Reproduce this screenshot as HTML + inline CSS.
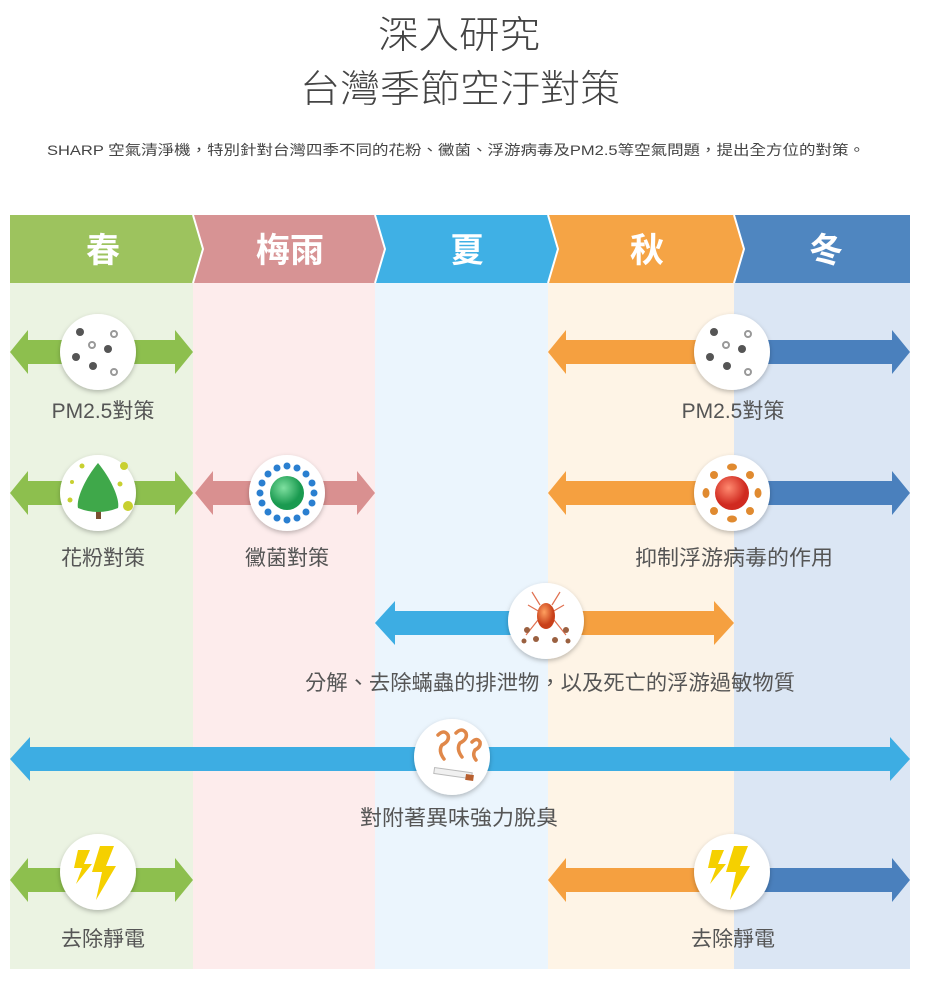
<!DOCTYPE html>
<html><head><meta charset="utf-8"><style>
html,body{margin:0;padding:0;background:#fff;width:938px;height:998px;overflow:hidden}
svg{display:block}
text{font-family:"Liberation Sans","Noto Sans CJK TC",sans-serif}
</style></head><body>
<svg width="938" height="998" viewBox="0 0 938 998" xmlns="http://www.w3.org/2000/svg">
<defs>
<filter id="sh" x="-30%" y="-30%" width="160%" height="160%"><feDropShadow dx="0" dy="2" stdDeviation="2.5" flood-color="#000" flood-opacity="0.25"/></filter>
<radialGradient id="gr" cx="40%" cy="35%"><stop offset="0" stop-color="#7fe0a0"/><stop offset="1" stop-color="#1a9a50"/></radialGradient>
<radialGradient id="rd" cx="40%" cy="35%"><stop offset="0" stop-color="#ff8a70"/><stop offset="1" stop-color="#d02a20"/></radialGradient>
<radialGradient id="mt" cx="40%" cy="35%"><stop offset="0" stop-color="#ffa060"/><stop offset="1" stop-color="#c8401a"/></radialGradient>
<g id="pm">
<g fill="#555"><circle cx="-18" cy="-20" r="4"/><circle cx="10" cy="-3" r="4"/><circle cx="-22" cy="5" r="4"/><circle cx="-5" cy="14" r="4"/></g>
<g fill="none" stroke="#999" stroke-width="2"><circle cx="16" cy="-18" r="3"/><circle cx="-6" cy="-7" r="3"/><circle cx="16" cy="20" r="3"/></g>
</g>
<g id="bolt">
<path d="M-20,-22 L-8,-22 L-14,-8 L-6,-8 L-22,12 L-16,-4 L-24,-4Z" fill="#f5d000"/>
<path d="M2,-26 L16,-26 L8,-6 L18,-6 L-2,28 L4,0 L-6,0Z" fill="#f5d000"/>
</g>
</defs>

<text x="459" y="48" font-size="38" font-weight="300" fill="#444" text-anchor="middle" textLength="162" lengthAdjust="spacingAndGlyphs">深入研究</text>
<text x="460" y="102" font-size="38" font-weight="300" fill="#444" text-anchor="middle" textLength="320" lengthAdjust="spacingAndGlyphs">台灣季節空汙對策</text>
<text x="47" y="155" font-size="14" fill="#444" textLength="818" lengthAdjust="spacingAndGlyphs">SHARP 空氣清淨機，特別針對台灣四季不同的花粉、黴菌、浮游病毒及PM2.5等空氣問題，提出全方位的對策。</text>

<rect x="10" y="283" width="183" height="686" fill="#ebf3e2"/>
<rect x="193" y="283" width="182" height="686" fill="#fdecec"/>
<rect x="375" y="283" width="173" height="686" fill="#ebf5fd"/>
<rect x="548" y="283" width="186" height="686" fill="#fef4e6"/>
<rect x="734" y="283" width="176" height="686" fill="#dbe6f4"/>

<polygon points="734,215 910,215 910,283 734,283 744,249" fill="#4f86c0"/>
<polygon points="548,215 734,215 744,249 734,283 548,283 558,249" fill="#f5a445"/>
<polygon points="375,215 548,215 558,249 548,283 375,283 385,249" fill="#3fb0e5"/>
<polygon points="193,215 375,215 385,249 375,283 193,283 203,249" fill="#d79394"/>
<polygon points="10,215 193,215 203,249 193,283 10,283" fill="#9dc35e"/>
<g stroke="#fff" stroke-width="2" fill="none">
<polyline points="193,215 203,249 193,283"/><polyline points="375,215 385,249 375,283"/><polyline points="548,215 558,249 548,283"/><polyline points="734,215 744,249 734,283"/>
</g>
<g font-size="34" fill="#fff" font-weight="bold" text-anchor="middle">
<text x="103" y="262">春</text><text x="290" y="262">梅雨</text><text x="467" y="262">夏</text><text x="647" y="262">秋</text><text x="826" y="262">冬</text>
</g>

<polygon points="10,352 28,330 28,340 100,340 100,364 28,364 28,374" fill="#8dbf4e"/>
<polygon points="193,352 175,330 175,340 100,340 100,364 175,364 175,374" fill="#8dbf4e"/>
<polygon points="548,352 566,330 566,340 732,340 732,364 566,364 566,374" fill="#f5a040"/>
<polygon points="910,352 892,330 892,340 732,340 732,364 892,364 892,374" fill="#4a80bd"/>
<circle cx="98" cy="352" r="38" fill="#fff" filter="url(#sh)"/><use href="#pm" x="98" y="352"/>
<circle cx="732" cy="352" r="38" fill="#fff" filter="url(#sh)"/><use href="#pm" x="732" y="352"/>

<polygon points="10,493 28,471 28,481 100,481 100,505 28,505 28,515" fill="#8dbf4e"/>
<polygon points="193,493 175,471 175,481 100,481 100,505 175,505 175,515" fill="#8dbf4e"/>
<polygon points="195,493 213,471 213,481 287,481 287,505 213,505 213,515" fill="#d99090"/>
<polygon points="375,493 357,471 357,481 287,481 287,505 357,505 357,515" fill="#d99090"/>
<polygon points="548,493 566,471 566,481 732,481 732,505 566,505 566,515" fill="#f5a040"/>
<polygon points="910,493 892,471 892,481 732,481 732,505 892,505 892,515" fill="#4a80bd"/>
<circle cx="98" cy="493" r="38" fill="#fff" filter="url(#sh)"/>
<rect x="96" y="505" width="5" height="14" fill="#7a5030"/>
<path d="M98,463 C84,480 76,500 78,508 Q98,516 118,508 C120,500 112,480 98,463Z" fill="#3fa84a"/>
<g fill="#c8d030"><circle cx="124" cy="466" r="4"/><circle cx="128" cy="506" r="5"/><circle cx="70" cy="500" r="2.5"/><circle cx="82" cy="466" r="2.5"/><circle cx="120" cy="484" r="2.5"/><circle cx="72" cy="482" r="2"/></g>
<circle cx="287" cy="493" r="38" fill="#fff" filter="url(#sh)"/>
<g fill="#2a7fd0"><circle cx="287" cy="466" r="3.5"/><circle cx="287" cy="520" r="3.5"/><circle cx="260" cy="493" r="3.5"/><circle cx="314" cy="493" r="3.5"/><circle cx="268" cy="474" r="3.5"/><circle cx="306" cy="474" r="3.5"/><circle cx="268" cy="512" r="3.5"/><circle cx="306" cy="512" r="3.5"/><circle cx="277" cy="468" r="3.5"/><circle cx="297" cy="468" r="3.5"/><circle cx="277" cy="518" r="3.5"/><circle cx="297" cy="518" r="3.5"/><circle cx="262" cy="483" r="3.5"/><circle cx="262" cy="503" r="3.5"/><circle cx="312" cy="483" r="3.5"/><circle cx="312" cy="503" r="3.5"/></g>
<circle cx="287" cy="493" r="17" fill="url(#gr)"/>
<circle cx="732" cy="493" r="38" fill="#fff" filter="url(#sh)"/>
<g fill="#e08a30"><ellipse cx="732" cy="467" rx="5" ry="3.5"/><ellipse cx="732" cy="519" rx="5" ry="3.5"/><ellipse cx="706" cy="493" rx="3.5" ry="5"/><ellipse cx="758" cy="493" rx="3.5" ry="5"/><circle cx="714" cy="475" r="4"/><circle cx="750" cy="475" r="4"/><circle cx="714" cy="511" r="4"/><circle cx="750" cy="511" r="4"/></g>
<circle cx="732" cy="493" r="17" fill="url(#rd)"/>

<polygon points="375,623 395,601 395,611 546,611 546,635 395,635 395,645" fill="#3dade3"/>
<polygon points="734,623 714,601 714,611 546,611 546,635 714,635 714,645" fill="#f5a040"/>
<circle cx="546" cy="621" r="38" fill="#fff" filter="url(#sh)"/>
<g stroke="#e07050" stroke-width="1.2" fill="none"><path d="M540,605 L532,592 M552,605 L560,592 M538,620 L526,635 M554,620 L566,635 M540,612 L528,605 M552,612 L564,605"/></g>
<ellipse cx="546" cy="616" rx="9" ry="13" fill="url(#mt)"/>
<g fill="#9a6040"><circle cx="527" cy="630" r="3"/><circle cx="566" cy="630" r="3"/><circle cx="536" cy="639" r="3"/><circle cx="555" cy="640" r="3"/><circle cx="524" cy="641" r="2.5"/><circle cx="568" cy="641" r="2.5"/></g>

<polygon points="10,759 30,737 30,747 890,747 890,737 910,759 890,781 890,771 30,771 30,781" fill="#3dade3"/>
<circle cx="452" cy="757" r="38" fill="#fff" filter="url(#sh)"/>
<g stroke="#e0884a" stroke-width="3.5" fill="none" stroke-linecap="round">
<path d="M438,735 q6,-6 10,0 q2,6 -6,10 q-4,6 2,14"/><path d="M456,733 q6,-6 10,0 q2,6 -6,10 q-4,6 2,14"/><path d="M472,742 q5,-5 8,0 q1,5 -5,8 q-3,5 1,10"/>
</g>
<rect x="434" y="770" width="38" height="6" fill="#f0f0f0" stroke="#bbb" stroke-width="1" transform="rotate(8 452 773)"/>
<rect x="466" y="772" width="8" height="6" fill="#b86030" transform="rotate(8 452 773)"/>

<polygon points="10,880 28,858 28,868 100,868 100,892 28,892 28,902" fill="#8dbf4e"/>
<polygon points="193,880 175,858 175,868 100,868 100,892 175,892 175,902" fill="#8dbf4e"/>
<polygon points="548,880 566,858 566,868 732,868 732,892 566,892 566,902" fill="#f5a040"/>
<polygon points="910,880 892,858 892,868 732,868 732,892 892,892 892,902" fill="#4a80bd"/>
<circle cx="98" cy="872" r="38" fill="#fff" filter="url(#sh)"/><use href="#bolt" x="98" y="872"/>
<circle cx="732" cy="872" r="38" fill="#fff" filter="url(#sh)"/><use href="#bolt" x="732" y="872"/>

<g font-size="21" fill="#555" text-anchor="middle">
<text x="103" y="418">PM2.5對策</text>
<text x="733" y="418">PM2.5對策</text>
<text x="103" y="565">花粉對策</text>
<text x="287" y="565">黴菌對策</text>
<text x="734" y="565" textLength="198" lengthAdjust="spacingAndGlyphs">抑制浮游病毒的作用</text>
<text x="550" y="690" textLength="490" lengthAdjust="spacingAndGlyphs">分解、去除蟎蟲的排泄物，以及死亡的浮游過敏物質</text>
<text x="459" y="825" textLength="198" lengthAdjust="spacingAndGlyphs">對附著異味強力脫臭</text>
<text x="103" y="946">去除靜電</text>
<text x="733" y="946">去除靜電</text>
</g>
</svg>
</body></html>
